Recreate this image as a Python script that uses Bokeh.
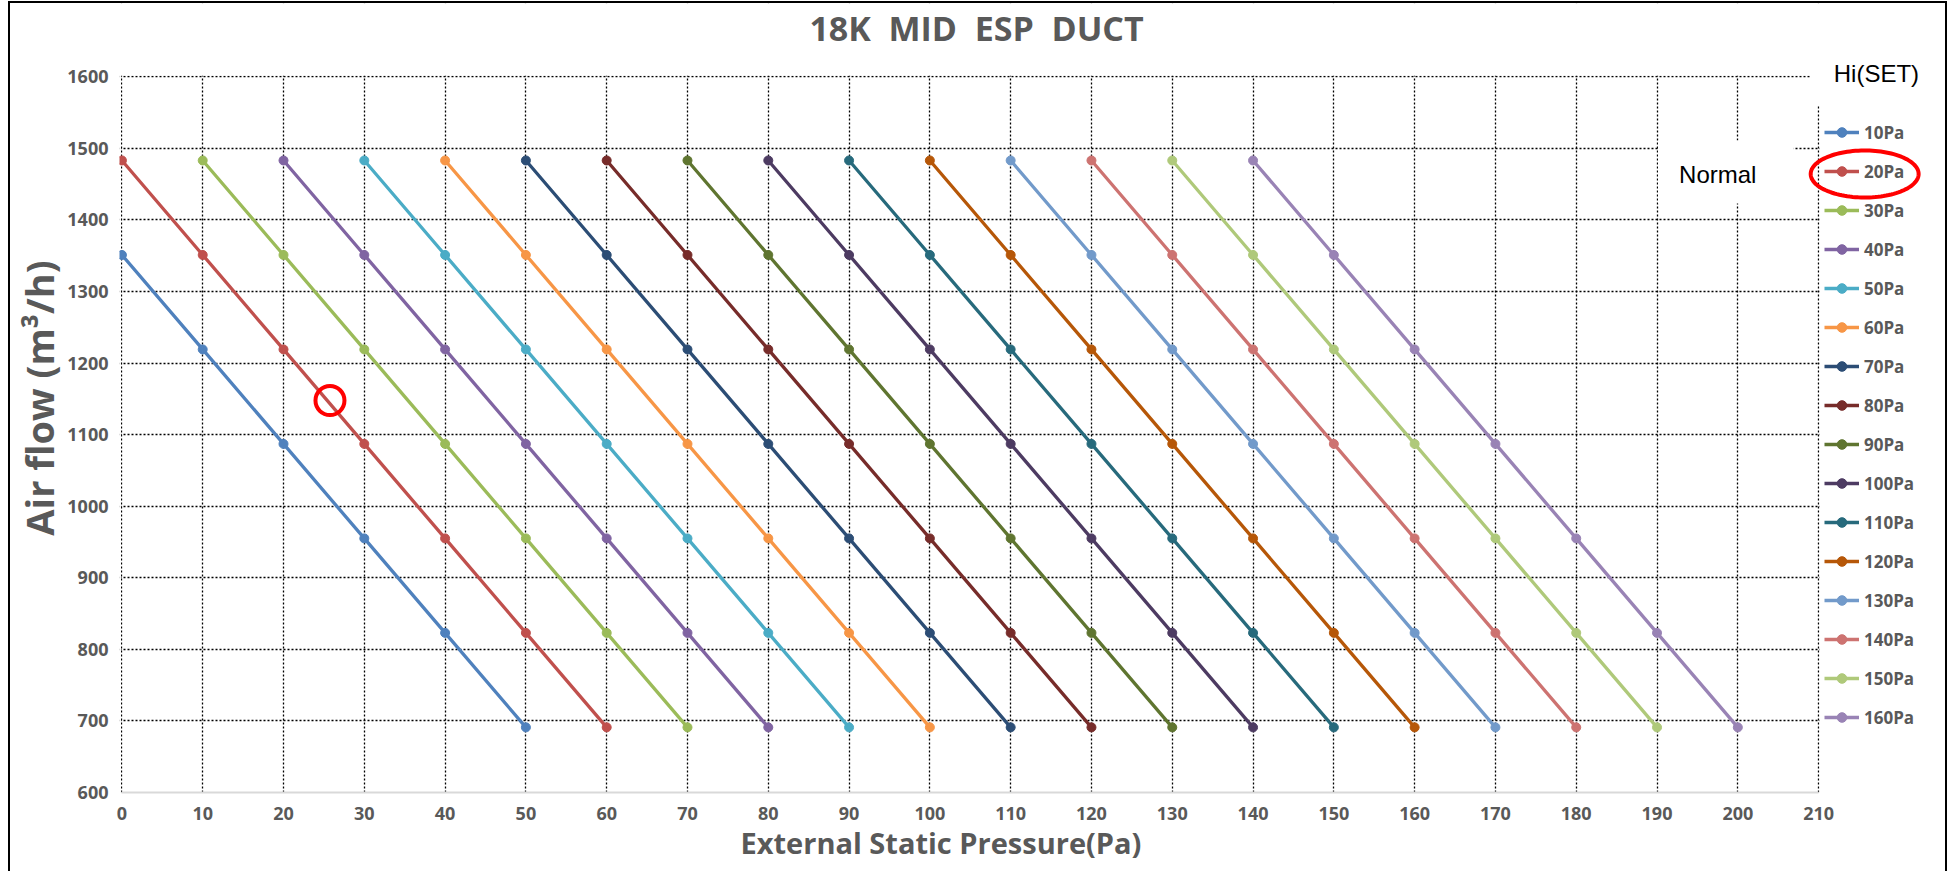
from bokeh.plotting import figure
from bokeh.models import (Range1d, SingleIntervalTicker, Legend, LegendItem,
                          Label, PolyAnnotation, Title)
from bokeh.embed import file_html
from bokeh.resources import INLINE
import numpy as np

# ---------------- data ----------------
title_text = "18K\u00a0 MID\u00a0 ESP\u00a0 DUCT"
x_title = "External Static Pressure(Pa)"
y_title = "Air flow (m³/h)"
legend_title = "Hi(SET)"
note_text = "Normal"

series_names = ["10Pa", "20Pa", "30Pa", "40Pa", "50Pa", "60Pa", "70Pa", "80Pa",
                "90Pa", "100Pa", "110Pa", "120Pa", "130Pa", "140Pa", "150Pa", "160Pa"]

esp_10pa = [0, 10, 20, 30, 40, 50]
flow_10pa = [1351, 1219, 1087, 955, 823, 691]
esp_20pa = [0, 10, 20, 30, 40, 50, 60]
flow_20pa = [1483, 1351, 1219, 1087, 955, 823, 691]
esp_30pa = [10, 20, 30, 40, 50, 60, 70]
flow_30pa = [1483, 1351, 1219, 1087, 955, 823, 691]
esp_40pa = [20, 30, 40, 50, 60, 70, 80]
flow_40pa = [1483, 1351, 1219, 1087, 955, 823, 691]
esp_50pa = [30, 40, 50, 60, 70, 80, 90]
flow_50pa = [1483, 1351, 1219, 1087, 955, 823, 691]
esp_60pa = [40, 50, 60, 70, 80, 90, 100]
flow_60pa = [1483, 1351, 1219, 1087, 955, 823, 691]
esp_70pa = [50, 60, 70, 80, 90, 100, 110]
flow_70pa = [1483, 1351, 1219, 1087, 955, 823, 691]
esp_80pa = [60, 70, 80, 90, 100, 110, 120]
flow_80pa = [1483, 1351, 1219, 1087, 955, 823, 691]
esp_90pa = [70, 80, 90, 100, 110, 120, 130]
flow_90pa = [1483, 1351, 1219, 1087, 955, 823, 691]
esp_100pa = [80, 90, 100, 110, 120, 130, 140]
flow_100pa = [1483, 1351, 1219, 1087, 955, 823, 691]
esp_110pa = [90, 100, 110, 120, 130, 140, 150]
flow_110pa = [1483, 1351, 1219, 1087, 955, 823, 691]
esp_120pa = [100, 110, 120, 130, 140, 150, 160]
flow_120pa = [1483, 1351, 1219, 1087, 955, 823, 691]
esp_130pa = [110, 120, 130, 140, 150, 160, 170]
flow_130pa = [1483, 1351, 1219, 1087, 955, 823, 691]
esp_140pa = [120, 130, 140, 150, 160, 170, 180]
flow_140pa = [1483, 1351, 1219, 1087, 955, 823, 691]
esp_150pa = [130, 140, 150, 160, 170, 180, 190]
flow_150pa = [1483, 1351, 1219, 1087, 955, 823, 691]
esp_160pa = [140, 150, 160, 170, 180, 190, 200]
flow_160pa = [1483, 1351, 1219, 1087, 955, 823, 691]

# highlighted operating point (red circle on the 20Pa curve)
highlight_esp = 25.75
highlight_flow = 1147.6

# axis extents shown
x_min, x_max = 0, 210
y_min, y_max = 600, 1600

# ---------------- styles ----------------
colors = ["#4F81BD", "#C0504D", "#9BBB59", "#8064A2", "#4BACC6", "#F79646",
          "#2C4D75", "#772C2A", "#5F7530", "#4D3B62", "#276A7C", "#B65708",
          "#729ACA", "#CD7371", "#AFC97A", "#9983B5"]
GRAY = "#595959"
FONT = "Open Sans"

all_x = [esp_10pa, esp_20pa, esp_30pa, esp_40pa, esp_50pa, esp_60pa, esp_70pa, esp_80pa,
         esp_90pa, esp_100pa, esp_110pa, esp_120pa, esp_130pa, esp_140pa, esp_150pa, esp_160pa]
all_y = [flow_10pa, flow_20pa, flow_30pa, flow_40pa, flow_50pa, flow_60pa, flow_70pa, flow_80pa,
         flow_90pa, flow_100pa, flow_110pa, flow_120pa, flow_130pa, flow_140pa, flow_150pa, flow_160pa]

# the frame also covers the title / legend area so nothing there is clipped
p = figure(width=1939, height=870,
           x_range=Range1d(-0.3, 226.2), y_range=Range1d(600, 1702.3),
           output_backend="svg", toolbar_location=None,
           min_border_left=107, min_border_right=0,
           min_border_top=0, min_border_bottom=81)
p.styles = {"margin-left": "8px", "margin-top": "1px",
            "border-top": "2px solid black", "border-left": "2px solid black",
            "border-right": "2px solid black"}
p.outline_line_color = None
p.background_fill_color = "white"
p.border_fill_color = "white"

# axes
p.xaxis.ticker = SingleIntervalTicker(interval=10)
p.yaxis.ticker = SingleIntervalTicker(interval=100)
p.xgrid.ticker = SingleIntervalTicker(interval=10)
p.ygrid.ticker = SingleIntervalTicker(interval=100)
p.xaxis.bounds = (x_min, x_max)
p.yaxis.bounds = (y_min, y_max)
for ax in (p.xaxis[0], p.yaxis[0]):
    ax.major_tick_line_color = None
    ax.minor_tick_line_color = None
    ax.major_label_text_font = FONT
    ax.major_label_text_font_size = "18px"
    ax.major_label_text_font_style = "bold"
    ax.major_label_text_color = GRAY
    ax.axis_label_text_font = FONT
    ax.axis_label_text_font_style = "bold"
    ax.axis_label_text_color = GRAY
p.yaxis.axis_line_color = None
p.xaxis.axis_line_color = "#D9D9D9"
p.xaxis.axis_line_width = 2
p.yaxis.axis_label = y_title
p.yaxis.axis_label_text_font_size = "38px"
p.xaxis.major_label_standoff = 8
p.yaxis.major_label_standoff = 5
p.yaxis.axis_label_standoff = -1

# x-axis title placed below the axis, centred under the 0..210 span
p.add_layout(Title(text=x_title, align="left", offset=621, vertical_align="top",
                   standoff=0, text_font=FONT, text_font_size="29px",
                   text_font_style="bold", text_color=GRAY), "below")

for g in (p.xgrid[0], p.ygrid[0]):
    g.grid_line_color = "black"
    g.grid_line_dash = "2 2"
    g.grid_line_width = 1.3

# white masks: keep the dotted grid inside 0..210 x 600..1600 and
# blank it behind the two text boxes
p.quad(left=x_max + 0.12, right=240, bottom=590, top=1800, fill_color="white", line_color=None)
p.quad(left=-1, right=240, bottom=y_max + 1.2, top=1800, fill_color="white", line_color=None)
p.quad(left=-1, right=-0.12, bottom=590, top=1800, fill_color="white", line_color=None)
p.quad(left=190.12, right=206.92, bottom=1422.8, top=1510.9, fill_color="white", line_color=None)
p.quad(left=209.0, right=211, bottom=1559.8, top=1610, fill_color="white", line_color=None)

items = []
for name, xs, ys, c in zip(series_names, all_x, all_y, colors):
    rl = p.line(xs, ys, line_color=c, line_width=3.3)
    rs = p.scatter(xs, ys, size=9, fill_color=c, line_color=c)
    items.append(LegendItem(label=name, renderers=[rl, rs]))

legend = Legend(items=items, location=(1705, 63), orientation="vertical",
                padding=5, spacing=15, margin=0,
                glyph_height=24, glyph_width=35, label_height=24, label_standoff=5,
                label_text_font=FONT, label_text_font_size="17px",
                label_text_font_style="bold", label_text_color=GRAY,
                border_line_color=None, background_fill_alpha=0)
p.add_layout(legend)

# highlight marks
p.scatter([highlight_esp], [highlight_flow], size=29, fill_color=None,
          line_color="#FF0000", line_width=4)

t = np.linspace(0, 2 * np.pi, 120)
ell = PolyAnnotation(xs=list(215.7 + 6.68 * np.cos(t)), ys=list(1464.1 + 32.83 * np.sin(t)),
                     xs_units="data", ys_units="data",
                     fill_alpha=0, line_color="#FF0000", line_alpha=1.0, line_width=4)
p.add_layout(ell)

# texts
p.add_layout(Label(x=105.78, y=1668.0, text=title_text, text_align="center",
                   text_baseline="middle", text_font=FONT, text_font_size="34px",
                   text_font_style="bold", text_color=GRAY))
p.add_layout(Label(x=197.52, y=1463.4, text=note_text, text_align="center",
                   text_baseline="middle", text_font="Liberation Sans",
                   text_font_size="24px", text_color="black"))
p.add_layout(Label(x=211.87, y=1604.5, text=legend_title, text_align="left",
                   text_baseline="middle", text_font="Liberation Sans",
                   text_font_size="24px", text_color="black"))

open("out.html", "w").write(file_html(p, INLINE))
